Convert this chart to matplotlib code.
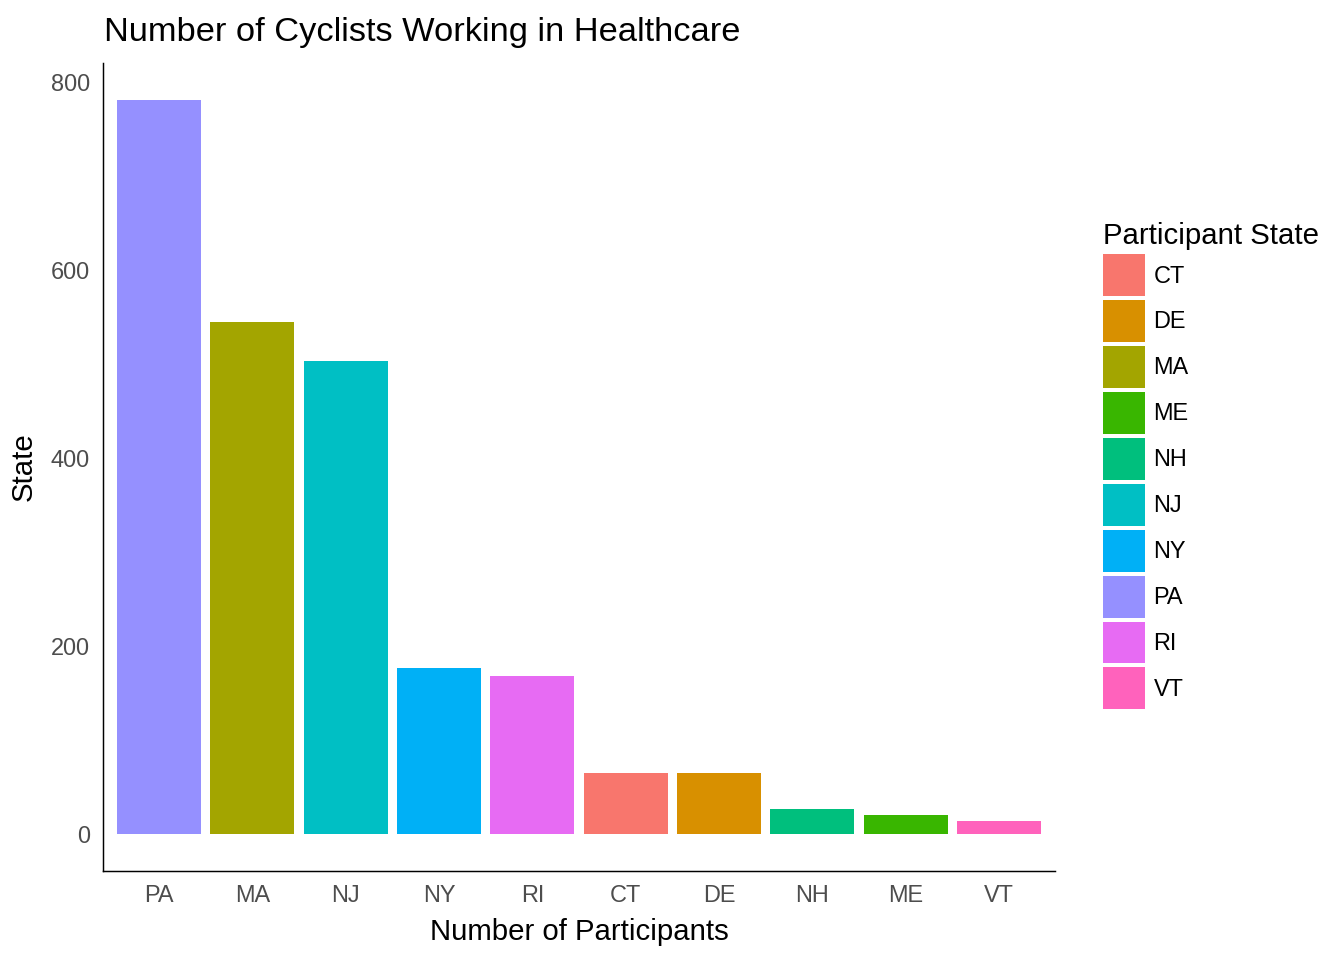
import matplotlib.pyplot as plt
from matplotlib.patches import Patch

plt.rcParams['font.family'] = ['Liberation Sans', 'DejaVu Sans']

# data, in plotted order
states = ['PA', 'MA', 'NJ', 'NY', 'RI', 'CT', 'DE', 'NH', 'ME', 'VT']
counts = [781, 545, 503, 177, 168, 65, 65, 27, 21, 14]

# ggplot default hue palette, legend order is alphabetical
legend_states = ['CT', 'DE', 'MA', 'ME', 'NH', 'NJ', 'NY', 'PA', 'RI', 'VT']
legend_colors = ['#F8766D', '#D89000', '#A3A500', '#39B600', '#00BF7D',
                 '#00BFC4', '#00B0F6', '#9590FF', '#E76BF3', '#FF62BC']
palette = dict(zip(legend_states, legend_colors))

fig = plt.figure(figsize=(7, 5), dpi=192)
ax = fig.add_axes([103/1344, 1 - 871/960, (1055 - 103)/1344, (871 - 63)/960])

x = list(range(len(states)))
ax.bar(x, counts, width=0.9, color=[palette[s] for s in states], linewidth=0)

ax.set_xlim(-0.6, len(states) - 1 + 0.6)
ymax = max(counts)
ax.set_ylim(-0.05 * ymax, ymax * 1.05)
ax.set_xticks(x)
ax.set_xticklabels(states)
ax.set_yticks([0, 200, 400, 600, 800])
ax.tick_params(length=0, labelsize=8.8, labelcolor='#4D4D4D', pad=5)

for side in ['top', 'right']:
    ax.spines[side].set_visible(False)
for side in ['left', 'bottom']:
    ax.spines[side].set_linewidth(0.55)
    ax.spines[side].set_color('black')

ax.set_xlabel('Number of Participants', fontsize=11, labelpad=4)
ax.set_ylabel('State', fontsize=11, labelpad=5)
fig.text(104/1344, 1 - 32/960, 'Number of Cyclists Working in Healthcare',
         fontsize=12.9, va='center', ha='left')

handles = [Patch(facecolor=palette[s], edgecolor='none', label=s) for s in legend_states]
leg = fig.legend(handles=handles, title='Participant State', loc='upper left',
                 bbox_to_anchor=(1087/1344, 1 - 206/960), frameon=False,
                 fontsize=8.8, title_fontsize=11, handlelength=1.79, handleheight=2.37,
                 labelspacing=0.17, handletextpad=0.34, borderpad=0.2)
leg._legend_box.align = 'left'

fig.savefig('out.png', dpi=192)
